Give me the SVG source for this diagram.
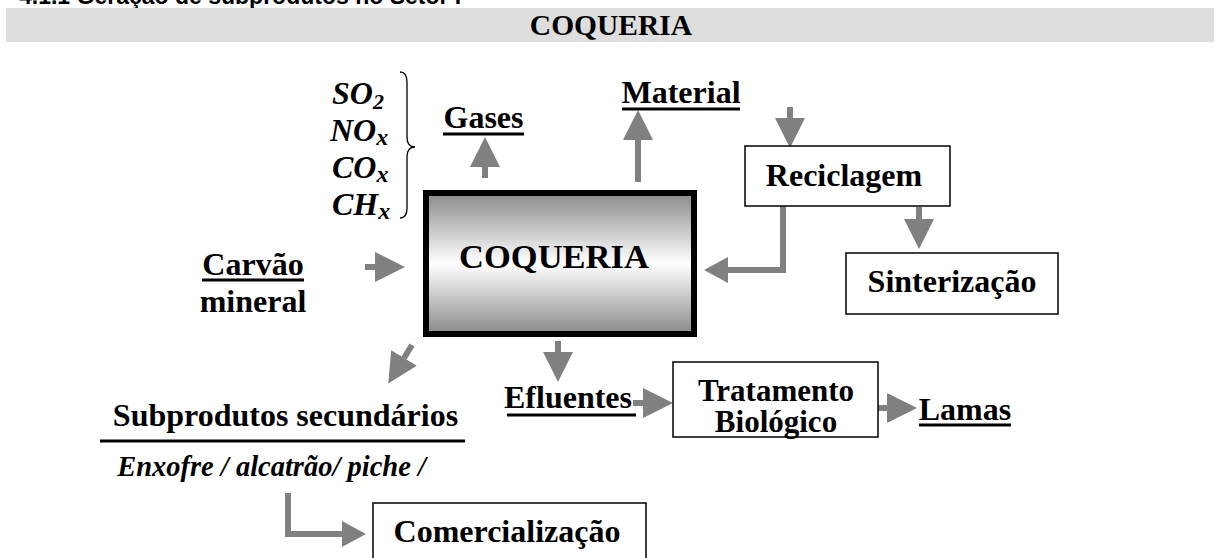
<svg xmlns="http://www.w3.org/2000/svg" width="1222" height="558" viewBox="0 0 1222 558">
  <style>
    .t { font-family: "Liberation Serif", "Times New Roman", serif; font-weight: bold; fill: #000; }
    .lbl { font-size: 32px; text-anchor: middle; }
    .it { font-style: italic; }
    .box { fill: #fff; stroke: #000; stroke-width: 1.5; }
    .ul { stroke: #000; stroke-width: 3; }
    .arr { fill: none; stroke: #808080; stroke-width: 6; }
  </style>
  <defs>
    <linearGradient id="g" x1="0" y1="0" x2="0" y2="1">
      <stop offset="0" stop-color="#8a8a8a"/>
      <stop offset="0.5" stop-color="#ffffff"/>
      <stop offset="1" stop-color="#8a8a8a"/>
    </linearGradient>
    <marker id="ah" markerUnits="userSpaceOnUse" markerWidth="31" markerHeight="31" refX="0" refY="15" orient="auto" overflow="visible">
      <path d="M0,0 L30,15 L0,30 Z" fill="#808080"/>
    </marker>
    <marker id="ahs" markerUnits="userSpaceOnUse" markerWidth="26" markerHeight="27" refX="0" refY="13" orient="auto" overflow="visible">
      <path d="M0,0 L24,13 L0,26 Z" fill="#808080"/>
    </marker>
  </defs>

  <g id="header">
    <text x="19" y="4" font-family="Liberation Sans, Arial, sans-serif" font-weight="bold" font-size="23">4.1.1 Geração de subprodutos no Setor I</text>
    <rect x="6" y="8" width="1208" height="34" fill="#dedede"/>
    <text class="t" x="611" y="35" font-size="29.5" text-anchor="middle">COQUERIA</text>
  </g>

  <g id="connectors">
    <line class="arr" x1="485" y1="178" x2="485" y2="167" marker-end="url(#ah)"/>
    <line class="arr" x1="638" y1="182" x2="638" y2="140" marker-end="url(#ah)"/>
    <line class="arr" x1="790" y1="107" x2="790" y2="118" marker-end="url(#ah)"/>
    <polyline class="arr" points="783,206 783,270 728,270" marker-end="url(#ahs)"/>
    <line class="arr" x1="919" y1="207" x2="919" y2="219" marker-end="url(#ah)"/>
    <line class="arr" x1="365" y1="267" x2="375" y2="267" marker-end="url(#ah)"/>
    <line class="arr" x1="412" y1="345" x2="404" y2="358" marker-end="url(#ah)"/>
    <line class="arr" x1="558" y1="341" x2="558" y2="352" marker-end="url(#ah)"/>
    <line class="arr" x1="633" y1="403" x2="643" y2="403" marker-end="url(#ah)"/>
    <line class="arr" x1="877" y1="408" x2="887" y2="408" marker-end="url(#ah)"/>
    <polyline class="arr" points="288,493 288,534 342,534" marker-end="url(#ahs)"/>
  </g>

  <g id="coqueria">
    <rect x="426" y="193" width="268" height="141" fill="url(#g)" stroke="#000" stroke-width="6"/>
    <text class="t" x="554" y="268" font-size="34.5" text-anchor="middle">COQUERIA</text>
  </g>

  <g id="gases-list">
    <text class="t it" x="332" y="104" font-size="32">SO<tspan font-size="22" dy="5">2</tspan></text>
    <text class="t it" x="330" y="141" font-size="32">NO<tspan font-size="24" dy="4">x</tspan></text>
    <text class="t it" x="332" y="178" font-size="32">CO<tspan font-size="24" dy="4">x</tspan></text>
    <text class="t it" x="332" y="215" font-size="32">CH<tspan font-size="24" dy="4">x</tspan></text>
    <path d="M400,72 Q407,72 407,82 L407,137 Q407,147 415,147 Q407,147 407,157 L407,208 Q407,218 400,218" fill="none" stroke="#000" stroke-width="1.3"/>
  </g>

  <g id="gases">
    <text class="t lbl" x="483.5" y="128">Gases</text>
    <line class="ul" x1="443" y1="134" x2="524" y2="134"/>
  </g>

  <g id="material">
    <text class="t lbl" x="681" y="103">Material</text>
    <line class="ul" x1="622" y1="109" x2="740" y2="109"/>
  </g>

  <g id="reciclagem">
    <rect class="box" x="745" y="146" width="205" height="60"/>
    <text class="t lbl" x="844" y="186">Reciclagem</text>
  </g>

  <g id="sinterizacao">
    <rect class="box" x="846" y="253" width="212" height="61"/>
    <text class="t lbl" x="952" y="292">Sinterização</text>
  </g>

  <g id="carvao">
    <text class="t lbl" x="253" y="275">Carvão</text>
    <line class="ul" x1="202" y1="280" x2="304" y2="280"/>
    <text class="t lbl" x="253" y="312">mineral</text>
  </g>

  <g id="efluentes">
    <text class="t lbl" x="568" y="408">Efluentes</text>
    <line class="ul" x1="507" y1="415" x2="636" y2="415"/>
  </g>

  <g id="tratamento">
    <rect class="box" x="673" y="362" width="205" height="75"/>
    <text class="t" x="776" y="401" font-size="31" text-anchor="middle">Tratamento</text>
    <text class="t" x="776" y="432" font-size="31" text-anchor="middle">Biológico</text>
  </g>

  <g id="lamas">
    <text class="t lbl" x="965" y="420">Lamas</text>
    <line class="ul" x1="919" y1="425" x2="1011" y2="425"/>
  </g>

  <g id="subprodutos">
    <text class="t lbl" x="285.5" y="426">Subprodutos secundários</text>
    <line class="ul" x1="100" y1="441" x2="465" y2="441"/>
    <text class="t it" x="271.5" y="476" font-size="28.5" text-anchor="middle">Enxofre / alcatrão/ piche /</text>
  </g>

  <g id="comercializacao">
    <rect class="box" x="373" y="503" width="273" height="60"/>
    <text class="t lbl" x="507" y="542">Comercialização</text>
  </g>
</svg>
